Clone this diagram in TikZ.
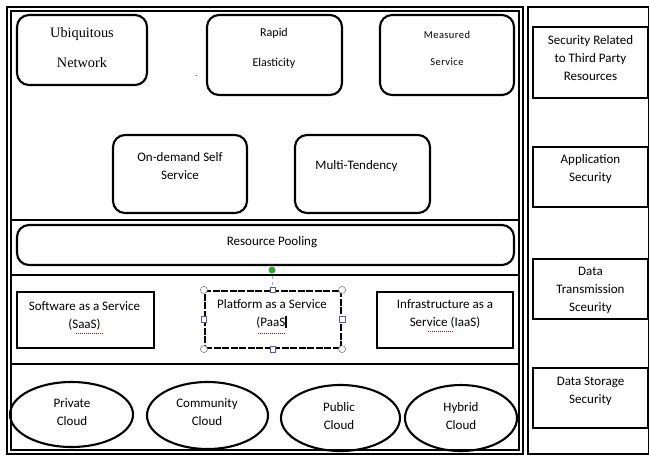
\documentclass[tikz,border=0pt]{standalone}
\usepackage{fontspec}
\setmainfont{Carlito}
\newfontfamily\serifx{Liberation Serif}
\usetikzlibrary{shapes.geometric}
\begin{document}
\begin{tikzpicture}[x=1pt,y=-1pt,
  rbox/.style={draw, line width=2.1pt, rounded corners=12pt, inner sep=0pt},
  sbox/.style={draw, line width=2.2pt, inner sep=0pt},
  cld/.style={draw, ellipse, line width=2.1pt, inner sep=0pt},
  txt/.style={align=center, inner sep=0pt, font=\fontsize{13}{18}\selectfont},
  handlec/.style={circle, draw=gray, fill=white, line width=0.6pt, minimum size=7pt, inner sep=0pt},
  handles/.style={rectangle, draw=gray!70!blue, fill=white, line width=0.6pt, minimum size=5.5pt, inner sep=0pt},
  spell/.style={red!85!black, line width=0.7pt, dash pattern=on 1pt off 1pt}]
\useasboundingbox (0,0) rectangle (649,456);
% frames
\draw[line width=2.6pt] (7,7) rectangle (523,454);
\draw[line width=1.5pt] (11,11) rectangle (519,450);
\draw[line width=1.3pt] (528,7) rectangle (648.4,454);
\draw[line width=2pt] (11,220) -- (519,220);
\draw[line width=2pt] (11,275) -- (519,275);
\draw[line width=1.6pt] (11,364) -- (519,364);
% top characteristics
\node[rbox, minimum width=130pt, minimum height=70pt] (ubi) at (82,50) {};
\node[txt, font=\serifx\fontsize{14.3}{30}\selectfont] (ubit) at (82,48) {Ubiquitous\\Network};
\node[rbox, minimum width=135pt, minimum height=80pt] (rap) at (274.5,55) {};
\node[txt, font=\fontsize{12}{30}\selectfont] (rapt) at (274,48) {Rapid\\Elasticity};
\node[rbox, minimum width=134pt, minimum height=80pt] (mea) at (447,55) {};
\node[txt, font=\fontsize{10.5}{27}\selectfont, text width=70pt] (meat) at (447,48.5) {\addfontfeatures{LetterSpace=4}Measured\\Service};
\node[inner sep=0pt, font=\fontsize{8}{8}\selectfont] (dot) at (197,76) {.};
\node[rbox, minimum width=134pt, minimum height=78pt] (ond) at (180,174) {};
\node[txt] (ondt) at (180,166) {On-demand Self\\Service};
\node[rbox, minimum width=135pt, minimum height=78pt] (mul) at (362.5,174) {};
\node[txt] (mult) at (356.5,166) {Multi-Tendency};
% resource pooling
\node[rbox, minimum width=497pt, minimum height=40pt] (res) at (265.5,245) {};
\node[txt] (rest) at (272,242) {Resource Pooling};
% service models
\node[sbox, minimum width=137pt, minimum height=56pt] (saas) at (85.5,320) {};
\node[txt] (saast) at (84.5,316) {Software as a Service\\(SaaS)};
\node[sbox, dash pattern=on 7pt off 1.5pt, minimum width=136pt, minimum height=57pt] (paas) at (273,319.5) {};
\node[txt] (paast) at (272,313.5) {Platform as a Service\\(PaaS\rule[-1.5pt]{1.3pt}{12pt}\kern1pt};
\node[sbox, minimum width=136pt, minimum height=56pt] (iaas) at (445,320) {};
\node[txt] (iaast) at (445,314) {Infrastructure as a\\Service (IaaS)};
\draw[spell] (76,333) -- (103,333);
\draw[spell] (258,333) -- (286,333);
\draw[spell] (428,331) -- (453,331);
% selection handles
\coordinate (gr) at (272,270);
\node[handles] (ht) at (paas.north) {};
\draw[gray, dashed, line width=0.5pt] (gr) -- (ht);
\node[circle, fill=green!55!black!80, minimum size=7pt, inner sep=0pt] (grn) at (gr) {};
\node[handles] (hb) at (paas.south) {};
\node[handles] (hl) at (paas.west) {};
\node[handles] (hr) at (paas.east) {};
\node[handlec] (h1) at (paas.north west) {};
\node[handlec] (h2) at (paas.north east) {};
\node[handlec] (h3) at (paas.south west) {};
\node[handlec] (h4) at (paas.south east) {};
% deployment models
\node[cld, minimum width=123pt, minimum height=65pt] (pri) at (71.5,414.5) {};
\node[txt] (prit) at (72,412) {Private\\Cloud};
\node[cld, minimum width=121pt, minimum height=67pt] (com) at (207.5,415.5) {};
\node[txt] (comt) at (207,412) {Community\\Cloud};
\node[cld, minimum width=119pt, minimum height=66pt] (pub) at (340.5,418) {};
\node[txt] (pubt) at (339,416) {Public\\Cloud};
\node[cld, minimum width=112pt, minimum height=66pt] (hyb) at (461,418) {};
\node[txt] (hybt) at (461,416) {Hybrid\\Cloud};
% security column
\node[sbox, minimum width=115pt, minimum height=71pt] (sec1) at (590.5,62.5) {};
\node[txt] (sec1t) at (590.5,58) {Security Related\\to Third Party\\Resources};
\node[sbox, minimum width=115pt, minimum height=60pt] (sec2) at (590.5,177) {};
\node[txt] (sec2t) at (590.5,169.5) {Application\\Security};
\node[sbox, minimum width=115pt, minimum height=60pt] (sec3) at (590.5,289) {};
\node[txt] (sec3t) at (590.5,290.5) {Data\\Transmission\\Sceurity};
\node[sbox, minimum width=115pt, minimum height=60pt] (sec4) at (590.5,398) {};
\node[txt] (sec4t) at (590.5,391.5) {Data Storage\\Security};
\end{tikzpicture}
\end{document}
